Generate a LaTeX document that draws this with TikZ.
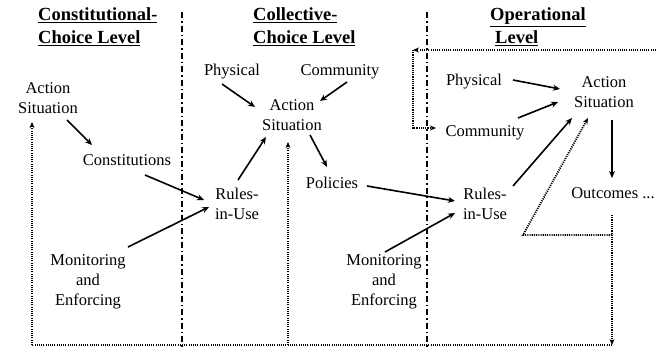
\documentclass[tikz,border=0pt]{standalone}
\usepackage{fontspec}
\setmainfont{Liberation Serif}
\usetikzlibrary{arrows.meta,calc}
\tikzset{
  txt/.style={font=\fontsize{16.5}{20}\selectfont, align=center, inner sep=2pt},
  head/.style={font=\fontsize{18.5}{23}\selectfont\bfseries, align=left, inner sep=0pt, anchor=west},
  arr/.style={line width=1.6pt, -{Stealth[length=7pt,width=6pt]}},
  dotl/.style={line width=1.8pt, dash pattern=on 1.1pt off 1.1pt},
  dotarr/.style={dotl, -{Stealth[length=6pt,width=5pt]}},
  divider/.style={line width=1.5pt, dash pattern=on 6pt off 3pt on 1.5pt off 3pt}
}
\begin{document}
\begin{tikzpicture}[x=1pt,y=-1pt]
\useasboundingbox (0,0) rectangle (656,348);
% headings
\node[head] (h1) at (38,27) {\underline{Constitutional-}\\\underline{Choice Level}};
\node[head] (h2) at (253,27) {\underline{Collective-}\\\underline{Choice Level}};
\node[head] (h3) at (490,27) {\underline{Operational}\\\hspace{5pt}\underline{Level}};
% dividers
\coordinate (d1t) at (182,12); \coordinate (d1b) at (182,347);
\coordinate (d2t) at (427,12); \coordinate (d2b) at (427,347);
\draw[divider] (d1t) -- (d1b);
\draw[divider] (d2t) -- (d2b);
% constitutional
\node[txt] (cAS) at (48,98) {Action\\Situation};
\node[txt] (cCon) at (127,160) {Constitutions};
\node[txt] (cMon) at (88,282) {Monitoring\\and\\Enforcing};
\node[txt] (cRules) at (237,204) {Rules-\\in-Use};
% collective
\node[txt] (kPhys) at (232,72) {Physical};
\node[txt] (kComm) at (340,72) {Community};
\node[txt] (kAS) at (292,115) {Action\\Situation};
\node[txt] (kPol) at (332,183) {Policies};
\node[txt] (kMon) at (384,282) {Monitoring\\and\\Enforcing};
% operational
\node[txt] (oPhys) at (474,82) {Physical};
\node[txt] (oAS) at (604,92) {Action\\Situation};
\node[txt] (oComm) at (485,133) {Community};
\node[txt] (oRules) at (485,204) {Rules-\\in-Use};
\node[txt] (oOut) at (613,193) {Outcomes ...};
% solid arrows
\draw[arr] ($(cAS)+(19,22)$) -- ($(cCon)+(-35,-15)$);
\draw[arr] ($(cCon)+(18,15)$) -- ($(cRules)+(-33,-4)$);
\draw[arr] ($(cMon)+(40,-35)$) -- ($(cRules)+(-28,3)$);
\draw[arr] ($(kPhys)+(-10,12)$) -- ($(kAS)+(-37,-8)$);
\draw[arr] ($(kComm)+(7,10)$) -- ($(kAS)+(28,-14)$);
\draw[arr] ($(cRules)+(1,-24)$) -- ($(kAS)+(-26,22)$);
\draw[arr] ($(kAS)+(18,20)$) -- ($(kPol)+(-5,-16)$);
\draw[arr] ($(kPol)+(35,3)$) -- ($(oRules)+(-30,-3)$);
\draw[arr] ($(kMon)+(1,-30)$) -- ($(oRules)+(-30,9)$);
\draw[arr] ($(oPhys)+(39,-2)$) -- ($(oAS)+(-44,-3)$);
\draw[arr] ($(oComm)+(33,-15)$) -- ($(oAS)+(-46,10)$);
\draw[arr] ($(oRules)+(28,-18)$) -- ($(oAS)+(-32,26)$);
\draw[arr] ($(oAS)+(8,28)$) -- ($(oOut)+(-1,-15)$);
% dotted feedback
\coordinate (bR) at (612,345);
\coordinate (bL) at (32,345);
\coordinate (bM) at (288,345);
\coordinate (j1) at (612,235);
\coordinate (j2) at (523,235);
\coordinate (tR) at (656,50);
\coordinate (tL) at (413,50);
\coordinate (tB) at (413,128);
\draw[dotarr] ($(oOut)+(-1,22)$) -- (bR);
\draw[dotl] (bR) -- (bL);
\draw[dotarr] (bL) -- ($(cAS)+(-16,24)$);
\draw[dotarr] (bM) -- ($(kAS)+(-4,27)$);
\draw[dotarr] (j1) -- (j2) -- ($(oAS)+(-16,26)$);
\draw[dotarr] (tR) -- (tL);
\draw[dotarr] (tL) -- (tB) -- ($(oComm)+(-49,-5)$);
\end{tikzpicture}
\end{document}
